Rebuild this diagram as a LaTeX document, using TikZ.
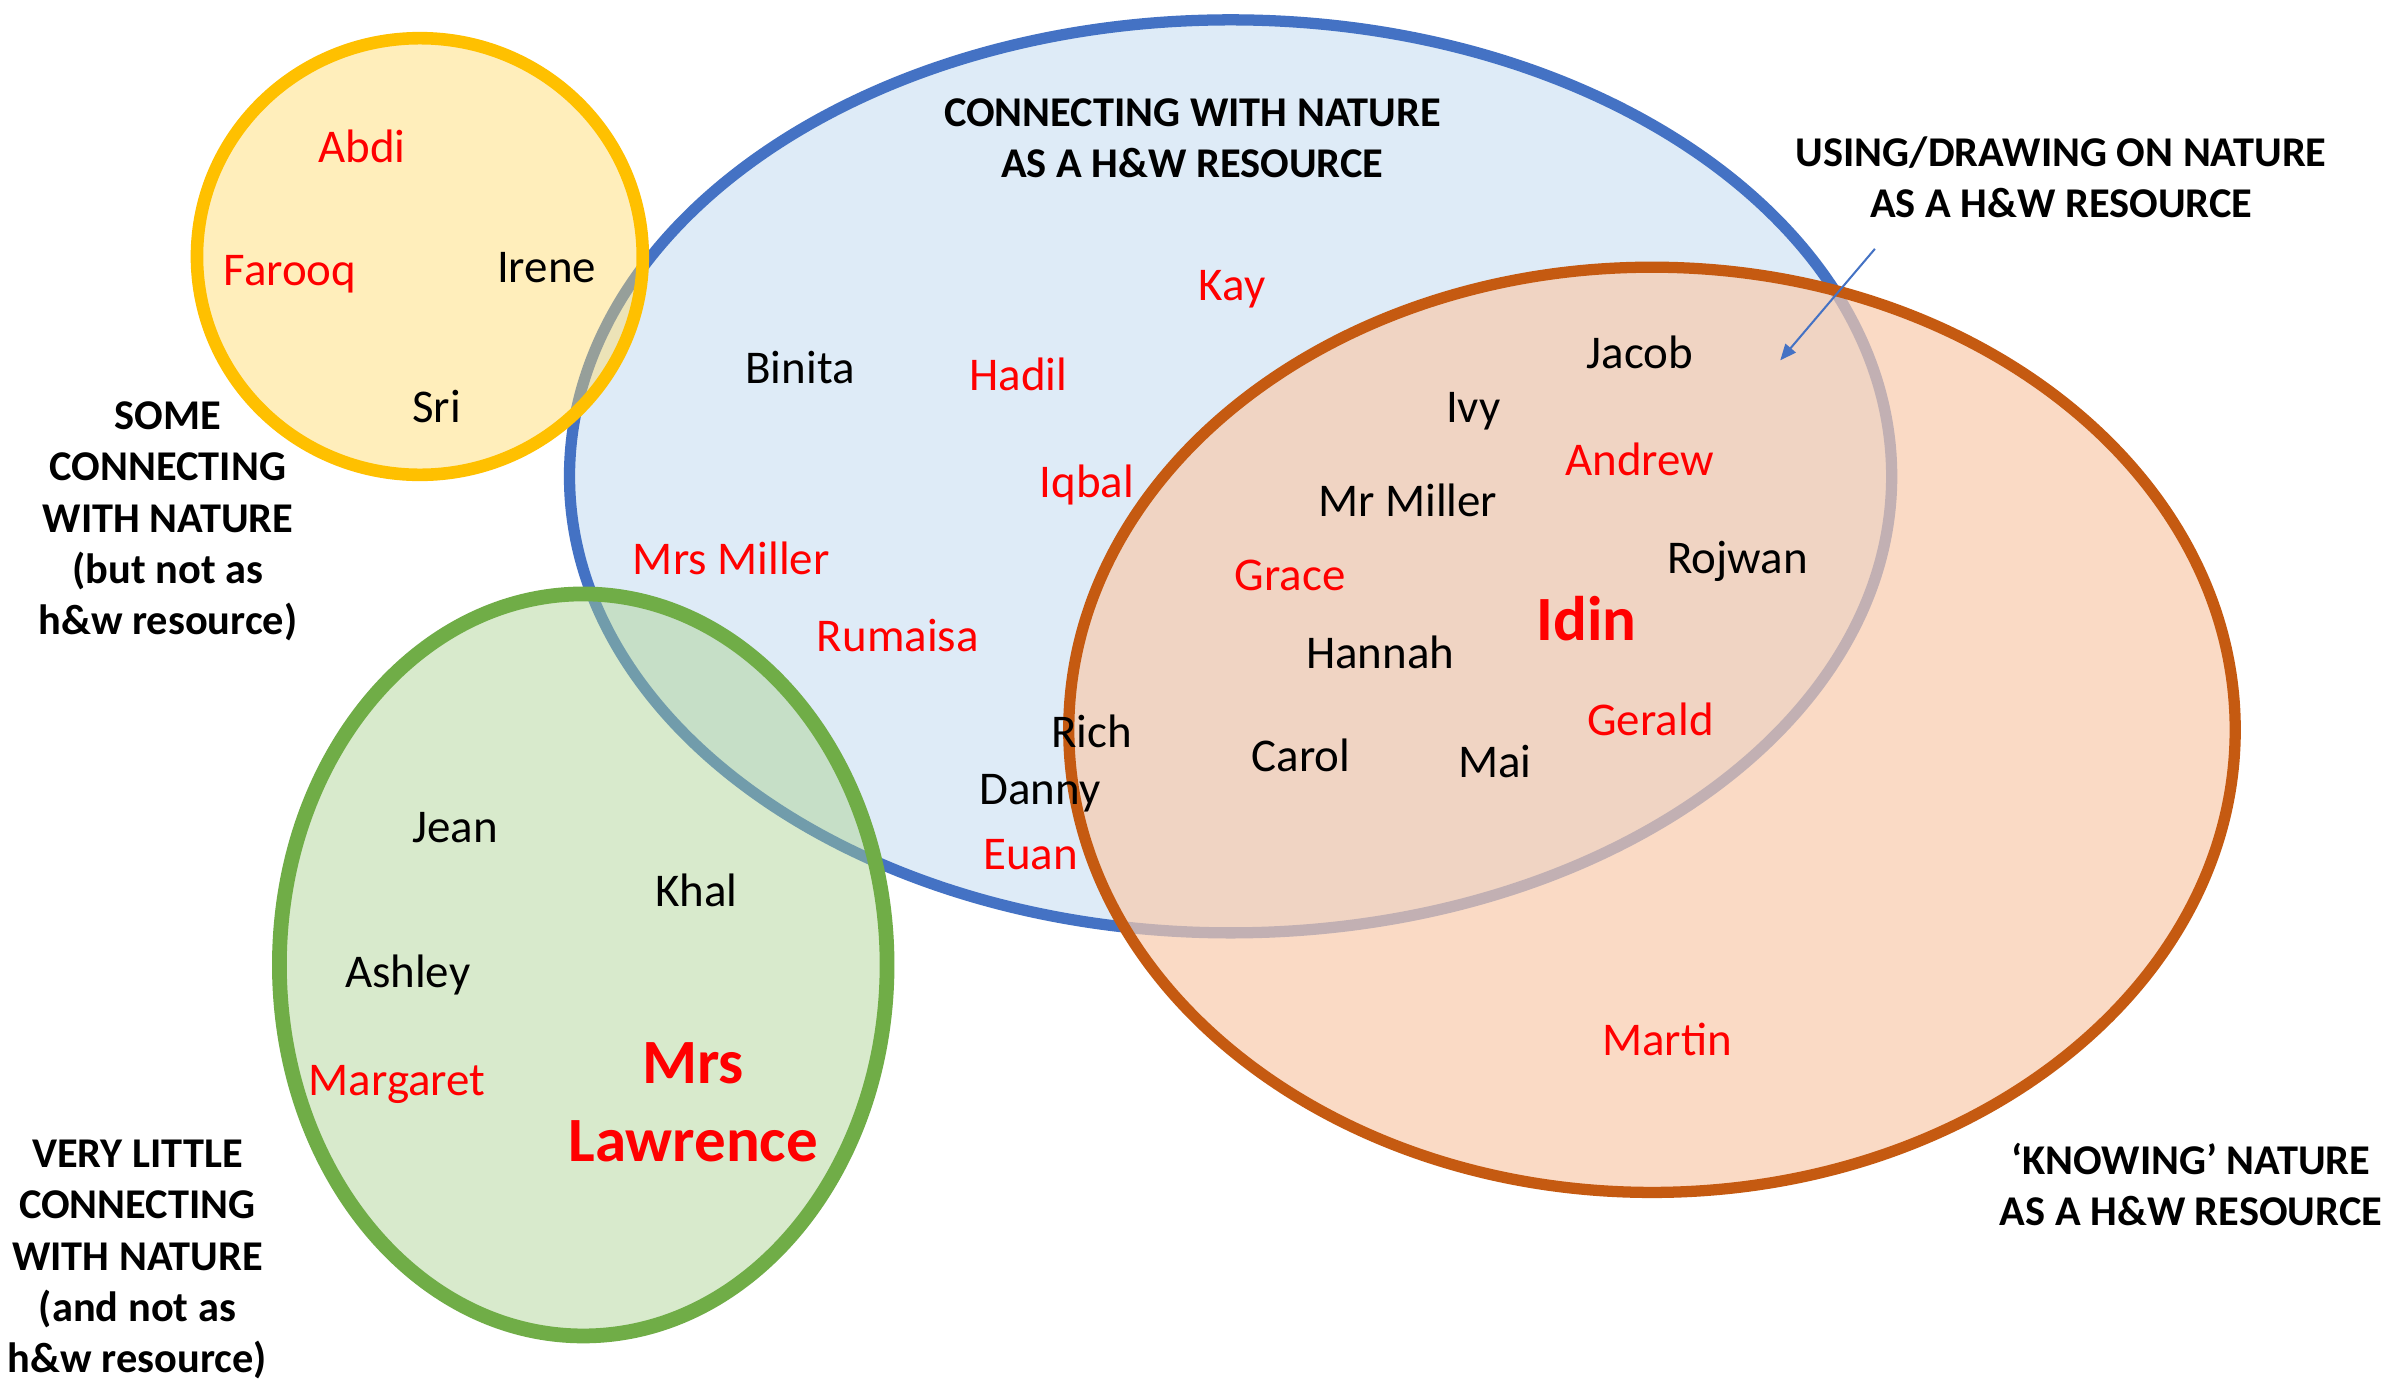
\documentclass[tikz,border=0pt]{standalone}
\usepackage{fontspec}
\setmainfont{Carlito}
\usetikzlibrary{arrows.meta}
\definecolor{blueline}{HTML}{4472C4}
\definecolor{bluefill}{HTML}{DEEBF7}
\definecolor{yellowline}{HTML}{FFC000}
\definecolor{yellowfill}{HTML}{FFD966}
\definecolor{greenline}{HTML}{70AD47}
\definecolor{greenfill}{HTML}{A9D18E}
\definecolor{orangeline}{HTML}{C55A11}
\definecolor{orangefill}{HTML}{F8CBAD}
\definecolor{redtext}{HTML}{FF0000}
\begin{document}
\begin{tikzpicture}[x=0.02cm,y=-0.02cm,
  nm/.style={font=\fontsize{17.5}{21}\selectfont, inner sep=0pt, text=black},
  rnm/.style={nm, text=redtext},
  bignm/.style={font=\bfseries\fontsize{23.5}{29}\selectfont, inner sep=0pt, text=redtext, align=center},
  heading/.style={font=\bfseries\fontsize{15.8}{19.1}\selectfont, inner sep=0pt, align=center, text=black},
  arrowline/.style={draw=blueline, line width=0.75pt, -{Triangle[length=6pt,width=5pt]}}]
\useasboundingbox (0,0) rectangle (1568,906);
\fill[white] (0,0) rectangle (1568,906);
% blue set
\draw[draw=blueline, fill=bluefill, line width=4.2pt] (806,312) ellipse [x radius=433, y radius=299];
% yellow set
\fill[yellowfill, fill opacity=0.44] (275,168) ellipse [x radius=146, y radius=143];
\draw[yellowline, line width=4.7pt] (275,168) ellipse [x radius=146, y radius=143];
% green set
\fill[greenfill, fill opacity=0.45] (382,632) ellipse [x radius=199, y radius=243];
\draw[greenline, line width=5.5pt] (382,632) ellipse [x radius=199, y radius=243];
% orange set
\fill[orangefill, fill opacity=0.7] (1082,478) ellipse [x radius=382, y radius=303];
\draw[orangeline, line width=4.2pt] (1082,478) ellipse [x radius=382, y radius=303];
% headings
\node[heading] (hconn) at (781,90.5) {CONNECTING WITH NATURE\\AS A H\&W RESOURCE};
\node[heading] (husing) at (1350,116) {USING/DRAWING ON NATURE\\AS A H\&W RESOURCE};
\node[heading] (hsome) at (110,341.5) {SOME\\CONNECTING\\WITH NATURE\\(but not as\\h\&w resource)};
\node[heading] (hvery) at (90,825) {VERY LITTLE\\CONNECTING\\WITH NATURE\\(and not as\\h\&w resource)};
\node[heading] (hknow) at (1435,776) {‘KNOWING’ NATURE\\AS A H\&W RESOURCE};
% arrow
\coordinate (arrS) at (1228,163);
\coordinate (arrE) at (1166,236);
\draw[arrowline] (arrS) -- (arrE);
% yellow names
\node[rnm] (abdi) at (237,96) {Abdi};
\node[rnm] (farooq) at (190,179.5) {Farooq};
\node[nm] (irene) at (358,175) {Irene};
\node[nm] (sri) at (286,266) {Sri};
% blue names
\node[nm] (binita) at (524,241) {Binita};
\node[rnm] (hadil) at (667,245) {Hadil};
\node[rnm] (kay) at (807,189.5) {Kay};
\node[rnm] (iqbal) at (712,317.5) {Iqbal};
\node[rnm] (mrsmiller) at (479,366) {Mrs Miller};
\node[rnm] (rumaisa) at (588,416) {Rumaisa};
\node[nm] (rich) at (715,479) {Rich};
\node[nm] (danny) at (681,519.5) {Danny};
\node[rnm] (euan) at (675,560) {Euan};
% overlap names
\node[nm] (jacob) at (1074,231) {Jacob};
\node[nm] (ivy) at (965,269.5) {Ivy};
\node[rnm] (andrew) at (1074,301) {Andrew};
\node[nm] (mrmiller) at (922,328) {Mr Miller};
\node[nm] (rojwan) at (1138,367.5) {Rojwan};
\node[rnm] (grace) at (845,377) {Grace};
\node[bignm] (idin) at (1039,405) {Idin};
\node[nm] (hannah) at (904,427) {Hannah};
\node[rnm] (gerald) at (1081,471) {Gerald};
\node[nm] (carol) at (852,495) {Carol};
\node[nm] (mai) at (979,499) {Mai};
% orange names
\node[rnm] (martin) at (1092,681) {Martin};
% green names
\node[nm] (jean) at (298,542) {Jean};
\node[nm] (khal) at (456,583) {Khal};
\node[nm] (ashley) at (267,638.5) {Ashley};
\node[rnm] (margaret) at (260,710.5) {Margaret};
\node[bignm] (mrslawrence) at (454,722) {Mrs\\Lawrence};
\end{tikzpicture}
\end{document}
